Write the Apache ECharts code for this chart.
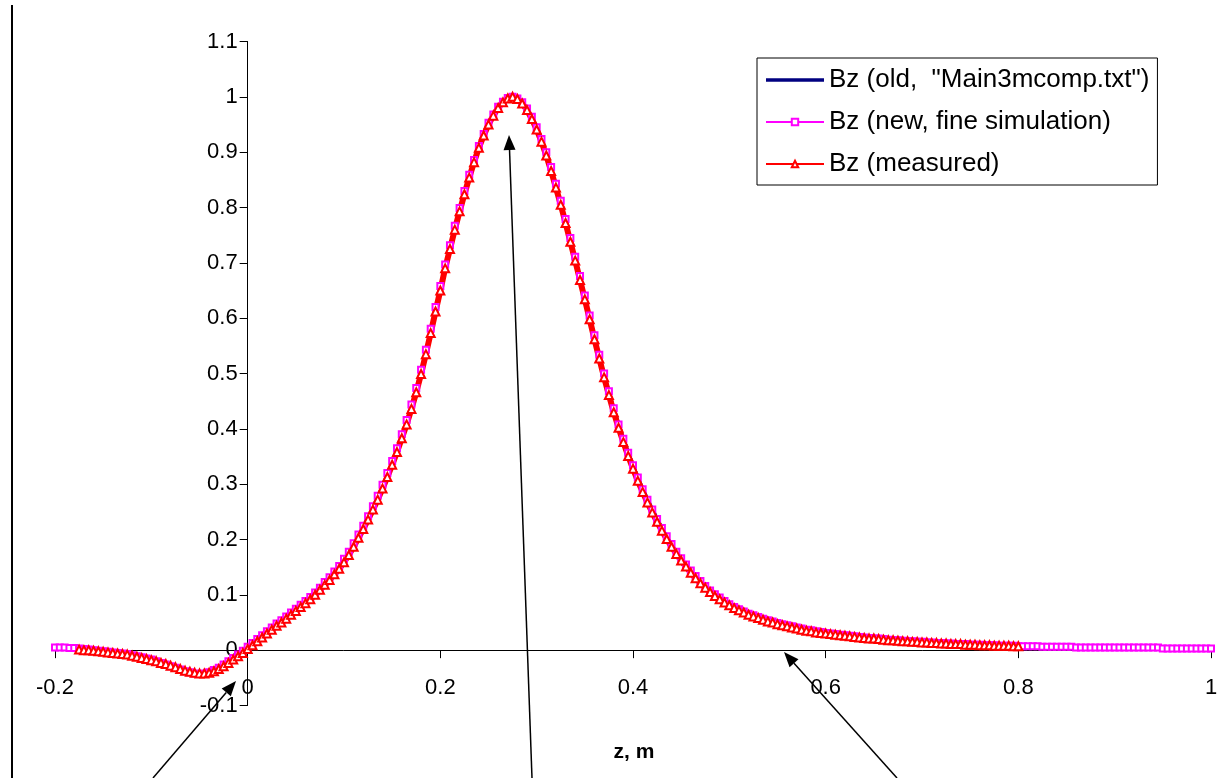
<!DOCTYPE html>
<html><head><meta charset="utf-8">
<script src="https://cdn.jsdelivr.net/npm/echarts@6/dist/echarts.min.js"></script>
<style>html,body{margin:0;padding:0;background:#fff}#c{width:1227px;height:778px}</style>
</head><body><div id="c"></div>
<script>
// ---------------- data ----------------
const seriesNames = ['Bz (old,  "Main3mcomp.txt")', 'Bz (new, fine simulation)', 'Bz (measured)'];
const xAxisName = 'z, m';

const zOld = [
-0.20,-0.19,-0.18,-0.17,-0.16,-0.15,-0.14,-0.13,-0.12,-0.11,
-0.10,-0.09,-0.08,-0.07,-0.06,-0.05,-0.04,-0.03,-0.02,-0.01,
0.00,0.01,0.02,0.03,0.04,0.05,0.06,0.07,0.08,0.09,
0.10,0.11,0.12,0.13,0.14,0.15,0.16,0.17,0.18,0.19,
0.20,0.21,0.22,0.23,0.24,0.25,0.26,0.27,0.28,0.29,
0.30,0.31,0.32,0.33,0.34,0.35,0.36,0.37,0.38,0.39,
0.40,0.41,0.42,0.43,0.44,0.45,0.46,0.47,0.48,0.49,
0.50,0.51,0.52,0.53,0.54,0.55,0.56,0.57,0.58,0.59,
0.60,0.61,0.62,0.63,0.64,0.65,0.66,0.67,0.68,0.69,
0.70,0.71,0.72,0.73,0.74,0.75,0.76,0.77,0.78,0.79,
0.80,0.81,0.82,0.83,0.84,0.85,0.86,0.87,0.88,0.89,
0.90,0.91,0.92,0.93,0.94,0.95,0.96,0.97,0.98,0.99,
1.00];
const bzOld = [
0.004,0.004,0.003,0.001,-0.001,-0.003,-0.005,-0.007,-0.010,-0.014,
-0.018,-0.023,-0.028,-0.034,-0.039,-0.042,-0.041,-0.034,-0.022,-0.010,
0.003,0.017,0.031,0.045,0.058,0.072,0.086,0.102,0.120,0.140,
0.162,0.190,0.223,0.258,0.296,0.339,0.387,0.441,0.505,0.579,
0.656,0.731,0.798,0.858,0.911,0.952,0.981,0.998,0.998,0.980,
0.947,0.900,0.842,0.776,0.708,0.638,0.567,0.500,0.438,0.384,
0.335,0.293,0.256,0.222,0.190,0.164,0.142,0.123,0.107,0.093,
0.082,0.073,0.065,0.059,0.053,0.048,0.044,0.040,0.036,0.033,
0.030,0.028,0.026,0.024,0.022,0.021,0.019,0.018,0.016,0.015,
0.014,0.013,0.012,0.011,0.011,0.010,0.009,0.009,0.008,0.008,
0.007,0.006,0.006,0.005,0.005,0.004,0.004,0.004,0.003,0.003,
0.003,0.002,0.002,0.002,0.002,0.001,0.001,0.001,0.001,0.001,
0.001];

const zNew = [
-0.200,-0.195,-0.190,-0.185,-0.180,-0.175,-0.170,-0.165,-0.160,-0.155,
-0.150,-0.145,-0.140,-0.135,-0.130,-0.125,-0.120,-0.115,-0.110,-0.105,
-0.100,-0.095,-0.090,-0.085,-0.080,-0.075,-0.070,-0.065,-0.060,-0.055,
-0.050,-0.045,-0.040,-0.035,-0.030,-0.025,-0.020,-0.015,-0.010,-0.005,
0.000,0.005,0.010,0.015,0.020,0.025,0.030,0.035,0.040,0.045,
0.050,0.055,0.060,0.065,0.070,0.075,0.080,0.085,0.090,0.095,
0.100,0.105,0.110,0.115,0.120,0.125,0.130,0.135,0.140,0.145,
0.150,0.155,0.160,0.165,0.170,0.175,0.180,0.185,0.190,0.195,
0.200,0.205,0.210,0.215,0.220,0.225,0.230,0.235,0.240,0.245,
0.250,0.255,0.260,0.265,0.270,0.275,0.280,0.285,0.290,0.295,
0.300,0.305,0.310,0.315,0.320,0.325,0.330,0.335,0.340,0.345,
0.350,0.355,0.360,0.365,0.370,0.375,0.380,0.385,0.390,0.395,
0.400,0.405,0.410,0.415,0.420,0.425,0.430,0.435,0.440,0.445,
0.450,0.455,0.460,0.465,0.470,0.475,0.480,0.485,0.490,0.495,
0.500,0.505,0.510,0.515,0.520,0.525,0.530,0.535,0.540,0.545,
0.550,0.555,0.560,0.565,0.570,0.575,0.580,0.585,0.590,0.595,
0.600,0.605,0.610,0.615,0.620,0.625,0.630,0.635,0.640,0.645,
0.650,0.655,0.660,0.665,0.670,0.675,0.680,0.685,0.690,0.695,
0.700,0.705,0.710,0.715,0.720,0.725,0.730,0.735,0.740,0.745,
0.750,0.755,0.760,0.765,0.770,0.775,0.780,0.785,0.790,0.795,
0.800,0.805,0.810,0.815,0.820,0.825,0.830,0.835,0.840,0.845,
0.850,0.855,0.860,0.865,0.870,0.875,0.880,0.885,0.890,0.895,
0.900,0.905,0.910,0.915,0.920,0.925,0.930,0.935,0.940,0.945,
0.950,0.955,0.960,0.965,0.970,0.975,0.980,0.985,0.990,0.995,
1.000];
const bzNew = [
0.005,0.005,0.005,0.004,0.004,0.003,0.002,0.001,0.000,-0.001,
-0.002,-0.003,-0.004,-0.005,-0.006,-0.007,-0.009,-0.011,-0.013,-0.015,
-0.017,-0.020,-0.023,-0.026,-0.029,-0.032,-0.035,-0.038,-0.040,-0.042,
-0.043,-0.042,-0.040,-0.036,-0.032,-0.026,-0.020,-0.014,-0.008,-0.001,
0.006,0.013,0.020,0.027,0.034,0.041,0.048,0.054,0.061,0.068,
0.075,0.082,0.089,0.096,0.104,0.113,0.123,0.132,0.142,0.152,
0.165,0.178,0.193,0.209,0.225,0.242,0.260,0.279,0.299,0.320,
0.342,0.365,0.390,0.416,0.444,0.474,0.507,0.543,0.581,0.620,
0.658,0.697,0.732,0.767,0.799,0.830,0.859,0.886,0.911,0.933,
0.953,0.968,0.982,0.991,0.998,1.000,0.997,0.990,0.979,0.964,
0.945,0.924,0.900,0.873,0.843,0.812,0.779,0.745,0.711,0.676,
0.641,0.605,0.569,0.534,0.500,0.468,0.437,0.408,0.382,0.357,
0.334,0.312,0.291,0.272,0.254,0.237,0.221,0.206,0.192,0.178,
0.166,0.155,0.144,0.134,0.125,0.116,0.108,0.101,0.095,0.089,
0.083,0.078,0.074,0.070,0.066,0.063,0.060,0.057,0.054,0.052,
0.049,0.047,0.045,0.043,0.041,0.039,0.037,0.036,0.034,0.033,
0.031,0.030,0.029,0.028,0.027,0.026,0.025,0.024,0.023,0.022,
0.021,0.021,0.020,0.019,0.018,0.018,0.017,0.016,0.016,0.015,
0.015,0.014,0.014,0.013,0.013,0.012,0.012,0.011,0.011,0.011,
0.010,0.010,0.010,0.009,0.009,0.009,0.008,0.008,0.008,0.008,
0.007,0.007,0.007,0.007,0.007,0.006,0.006,0.006,0.006,0.006,
0.006,0.006,0.005,0.005,0.005,0.005,0.005,0.005,0.005,0.005,
0.005,0.005,0.005,0.005,0.005,0.005,0.005,0.005,0.005,0.005,
0.003,0.003,0.003,0.003,0.003,0.003,0.003,0.003,0.003,0.003,
0.003];

const zMeasured = [
-0.175,-0.170,-0.165,-0.160,-0.155,-0.150,-0.145,-0.140,-0.135,-0.130,
-0.125,-0.120,-0.115,-0.110,-0.105,-0.100,-0.095,-0.090,-0.085,-0.080,
-0.075,-0.070,-0.065,-0.060,-0.055,-0.050,-0.045,-0.040,-0.035,-0.030,
-0.025,-0.020,-0.015,-0.010,-0.005,0.000,0.005,0.010,0.015,0.020,
0.025,0.030,0.035,0.040,0.045,0.050,0.055,0.060,0.065,0.070,
0.075,0.080,0.085,0.090,0.095,0.100,0.105,0.110,0.115,0.120,
0.125,0.130,0.135,0.140,0.145,0.150,0.155,0.160,0.165,0.170,
0.175,0.180,0.185,0.190,0.195,0.200,0.205,0.210,0.215,0.220,
0.225,0.230,0.235,0.240,0.245,0.250,0.255,0.260,0.265,0.270,
0.275,0.280,0.285,0.290,0.295,0.300,0.305,0.310,0.315,0.320,
0.325,0.330,0.335,0.340,0.345,0.350,0.355,0.360,0.365,0.370,
0.375,0.380,0.385,0.390,0.395,0.400,0.405,0.410,0.415,0.420,
0.425,0.430,0.435,0.440,0.445,0.450,0.455,0.460,0.465,0.470,
0.475,0.480,0.485,0.490,0.495,0.500,0.505,0.510,0.515,0.520,
0.525,0.530,0.535,0.540,0.545,0.550,0.555,0.560,0.565,0.570,
0.575,0.580,0.585,0.590,0.595,0.600,0.605,0.610,0.615,0.620,
0.625,0.630,0.635,0.640,0.645,0.650,0.655,0.660,0.665,0.670,
0.675,0.680,0.685,0.690,0.695,0.700,0.705,0.710,0.715,0.720,
0.725,0.730,0.735,0.740,0.745,0.750,0.755,0.760,0.765,0.770,
0.775,0.780,0.785,0.790,0.795,0.800];
const bzMeasured = [
0.001,0.000,0.000,-0.001,-0.002,-0.003,-0.004,-0.005,-0.006,-0.007,
-0.008,-0.010,-0.012,-0.014,-0.016,-0.018,-0.020,-0.023,-0.025,-0.028,
-0.031,-0.034,-0.037,-0.039,-0.041,-0.042,-0.042,-0.041,-0.038,-0.034,
-0.029,-0.023,-0.017,-0.011,-0.005,0.002,0.009,0.016,0.023,0.030,
0.037,0.044,0.050,0.057,0.064,0.071,0.078,0.085,0.092,0.100,
0.109,0.118,0.127,0.137,0.147,0.159,0.172,0.187,0.203,0.219,
0.236,0.254,0.272,0.292,0.313,0.335,0.358,0.383,0.408,0.436,
0.466,0.499,0.535,0.573,0.612,0.650,0.690,0.725,0.760,0.793,
0.824,0.854,0.882,0.908,0.930,0.950,0.966,0.980,0.990,0.997,
1.000,0.996,0.988,0.976,0.960,0.941,0.919,0.894,0.866,0.836,
0.805,0.772,0.738,0.704,0.669,0.634,0.598,0.562,0.527,0.493,
0.461,0.430,0.402,0.376,0.351,0.328,0.306,0.286,0.267,0.249,
0.232,0.216,0.201,0.187,0.174,0.162,0.151,0.140,0.130,0.121,
0.113,0.105,0.098,0.092,0.086,0.081,0.076,0.072,0.068,0.064,
0.061,0.058,0.055,0.052,0.050,0.047,0.045,0.043,0.041,0.039,
0.037,0.035,0.034,0.032,0.031,0.030,0.029,0.028,0.027,0.026,
0.025,0.024,0.023,0.022,0.021,0.021,0.020,0.019,0.018,0.018,
0.017,0.016,0.016,0.015,0.015,0.014,0.014,0.013,0.013,0.012,
0.012,0.011,0.011,0.011,0.010,0.010,0.010,0.009,0.009,0.009,
0.008,0.008,0.008,0.008,0.007,0.007];

// ---------------- chart ----------------
function pairs(z, v) { return z.map(function (x, i) { return [x, v[i]]; }); }
const FONT = '"Liberation Sans", Arial, sans-serif';
const GRID = { left: 55, right: 16, top: 41.5, bottom: 72.5 };
const chart = echarts.init(document.getElementById('c'), null, { renderer: 'canvas' });

function arrow(x1, y1, x2, y2) {
  const dx = x2 - x1, dy = y2 - y1, L = Math.hypot(dx, dy), ux = dx / L, uy = dy / L;
  const hl = 15, hw = 6;
  const bx = x2 - ux * hl, by = y2 - uy * hl;
  return [
    { type: 'line', z: 100, silent: true, shape: { x1: x1, y1: y1, x2: bx, y2: by }, style: { stroke: '#000', lineWidth: 1.5 } },
    { type: 'polygon', z: 100, silent: true, shape: { points: [[x2, y2], [bx - uy * hw, by + ux * hw], [bx + uy * hw, by - ux * hw]] }, style: { fill: '#000' } }
  ];
}

const option = {
  animation: false,
  backgroundColor: '#fff',
  grid: { left: GRID.left, right: GRID.right, top: GRID.top, bottom: GRID.bottom, containLabel: false },
  xAxis: {
    type: 'value', min: -0.2, max: 1, interval: 0.2, offset: 0,
    axisLine: { show: true, onZero: false, lineStyle: { color: '#000', width: 1 } },
    axisTick: { show: true, inside: false, length: 8, lineStyle: { color: '#000', width: 1 } },
    axisLabel: { color: '#000', fontFamily: FONT, fontSize: 22, margin: 27 },
    splitLine: { show: false }
  },
  yAxis: {
    type: 'value', min: -0.1, max: 1.1, interval: 0.1, offset: 0,
    axisLine: { show: true, onZero: false, lineStyle: { color: '#000', width: 1 } },
    axisTick: { show: true, inside: false, length: 8, lineStyle: { color: '#000', width: 1 } },
    axisLabel: { color: '#000', fontFamily: FONT, fontSize: 22, margin: 10 },
    splitLine: { show: false }
  },
  legend: {
    orient: 'vertical', left: 757, top: 58,
    padding: [9, 8, 8, 8], itemGap: 16, itemWidth: 58, itemHeight: 8,
    borderColor: '#000', borderWidth: 1, backgroundColor: '#fff',
    textStyle: { fontFamily: FONT, fontSize: 26, color: '#000' },
    data: [
      { name: seriesNames[0], icon: 'path://M0,0 H58 V3.5 H0 Z', itemStyle: { color: '#000080' } },
      { name: seriesNames[1] },
      { name: seriesNames[2] }
    ]
  },
  series: [
    {
      name: seriesNames[0], type: 'line', data: pairs(zOld, bzOld), symbol: 'none',
      lineStyle: { color: '#000080', width: 3 }, itemStyle: { color: '#000080' }, silent: true
    },
    {
      name: seriesNames[1], type: 'line', data: pairs(zNew, bzNew), symbol: 'emptyRect', symbolSize: 6,
      lineStyle: { color: '#FF00FF', width: 1.5 }, itemStyle: { color: '#FF00FF', borderColor: '#FF00FF', borderWidth: 1.5 }, silent: true
    },
    {
      name: seriesNames[2], type: 'line', data: pairs(zMeasured, bzMeasured), symbol: 'emptyTriangle', symbolSize: 8,
      lineStyle: { color: '#FF0000', width: 6 }, itemStyle: { color: '#FF0000', borderColor: '#FF0000', borderWidth: 1.5 }, silent: true
    }
  ],
  graphic: [
    { type: 'line', silent: true, shape: { x1: 12, y1: 5, x2: 12, y2: 778 }, style: { stroke: '#000', lineWidth: 2 } },
    { type: 'text', silent: true, x: 634, y: 752, style: { text: xAxisName, font: 'bold 21px "Liberation Sans", Arial, sans-serif', fill: '#000', align: 'center', verticalAlign: 'middle' } }
  ].concat(arrow(153, 778, 236, 681), arrow(532, 778, 509, 135), arrow(897, 778, 784, 652))
};
chart.setOption(option);

// place each axis through the other axis' zero (axes cross at the origin, as in the reference)
const origin = chart.convertToPixel({ gridIndex: 0 }, [0, 0]);
const gridBottomY = 778 - GRID.bottom;
chart.setOption({
  xAxis: { offset: -(gridBottomY - origin[1]) },
  yAxis: { offset: -(origin[0] - GRID.left) }
});
</script>
</body></html>
